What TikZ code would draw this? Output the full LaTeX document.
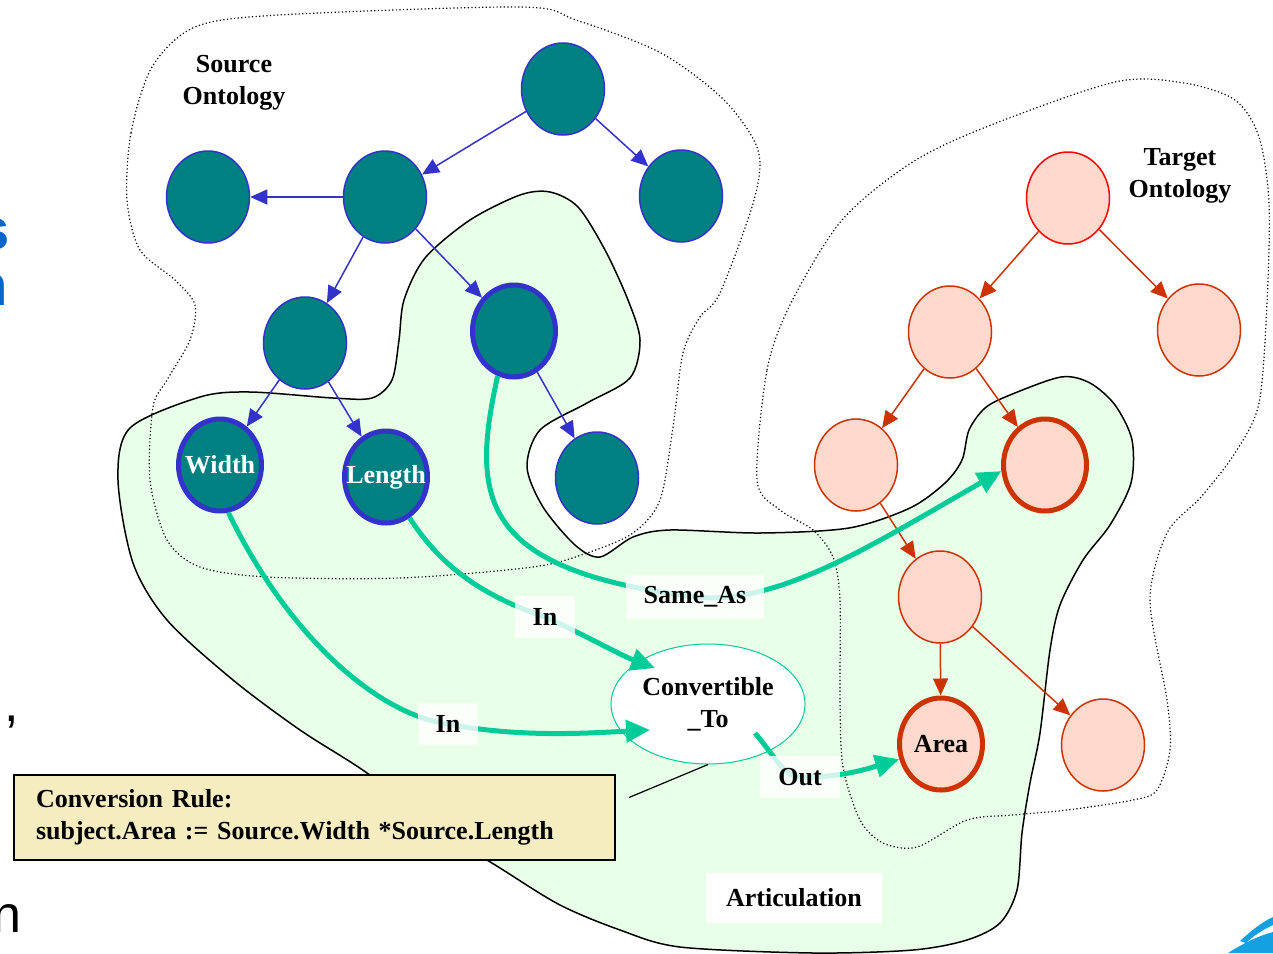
\documentclass[tikz,border=0pt]{standalone}
\usepackage{fontspec}
\setmainfont{Liberation Serif}
\newfontfamily\slidesans{Liberation Sans}
\usetikzlibrary{shapes.geometric, arrows.meta, calc}
\definecolor{srcfill}{RGB}{0,128,128}
\definecolor{srcline}{RGB}{51,51,204}
\definecolor{tgtfill}{RGB}{255,217,204}
\definecolor{tgtline}{RGB}{204,51,0}
\definecolor{tgttop}{RGB}{255,0,0}
\definecolor{flowgreen}{RGB}{0,204,153}
\definecolor{artfill}{RGB}{232,255,232}
\definecolor{rulefill}{RGB}{245,237,192}
\definecolor{slideblue}{RGB}{0,102,204}
\definecolor{logoblue}{RGB}{20,160,225}
\newcommand{\bigbold}{\bfseries\fontsize{26}{32}\selectfont}
\newcommand{\conceptname}[1]{\makebox[0pt]{#1}}
\tikzstyle{concept} = [ellipse, draw, line width=1.5pt, minimum width=83pt,
    minimum height=92pt, inner sep=0pt, font=\bigbold]
\tikzstyle{srcnode} = [concept, draw=srcline, fill=srcfill, text=white]
\tikzstyle{srcmark} = [srcnode, line width=5pt]
\tikzstyle{tgtnode} = [concept, draw=tgtline, fill=tgtfill]
\tikzstyle{tgtmark} = [tgtnode, line width=5pt]
\tikzstyle{srcedge} = [draw=srcline, line width=1.5pt, ->]
\tikzstyle{tgtedge} = [draw=tgtline, line width=1.5pt, ->]
\tikzstyle{flow} = [draw=flowgreen, line width=5pt,
    -{Triangle[length=24pt,width=22pt]}]
\tikzstyle{flowlabel} = [fill=white, fill opacity=0.8, text opacity=1,
    inner xsep=18pt, inner ysep=12pt, font=\bigbold]
\tikzstyle{title} = [align=center, font=\bigbold]
\tikzstyle{boundary} = [line width=1.2pt, dash pattern=on 1.2pt off 2.4pt]

\begin{document}
\begin{tikzpicture}[x=1pt, y=-1pt, >={Triangle[length=17pt,width=15pt]}]
    \useasboundingbox (0,0) rectangle (1273,953);

    \filldraw [fill=artfill, draw=black, line width=1.5pt] plot [smooth cycle] coordinates {
        (118,480) (130,428) (200,397) (250,392) (333,398) (372,398) (392,380)
        (399,340) (404,300) (425,258) (470,220) (520,195) (550,192) (578,207)
        (605,250) (628,300) (640,340) (630,378) (587,403) (540,430) (527,467)
        (543,507) (575,545) (600,557) (633,537) (670,530) (760,533) (849,528)
        (910,508) (945,483) (962,460) (969,430) (985,408) (1010,395) (1061,377)
        (1090,383) (1115,405) (1132,440) (1131,483) (1110,525) (1083,560)
        (1060,605) (1050,650) (1040,733) (1030,783) (1022,833) (1017,890)
        (1000,923) (967,940) (913,950) (813,953) (680,947) (620,930) (560,905)
        (500,868) (440,830) (367,773) (300,730) (233,680) (167,620) (133,563)};

    \draw [boundary] plot [smooth cycle] coordinates {
        (127,200) (131,133) (152,67) (195,27) (279,15) (521,7) (576,20)
        (661,53) (724,100) (758,150) (754,200) (720,293) (700,317) (683,353)
        (673,427) (660,500) (633,533) (587,553) (533,567) (400,578) (267,577)
        (200,567) (167,540) (150,480) (153,407) (167,380) (190,340) (195,305)
        (175,280) (140,250)};
    \draw [boundary] plot [smooth cycle] coordinates {
        (757,480) (767,370) (791,303) (842,220) (911,163) (986,127) (1115,82)
        (1184,83) (1235,100) (1259,137) (1269,203) (1267,303) (1259,403)
        (1235,453) (1201,497) (1167,533) (1150,600) (1167,700) (1170,750)
        (1157,790) (1133,800) (1067,810) (1013,815) (967,820) (917,847)
        (883,843) (860,820) (843,767) (840,700) (840,600) (833,557) (813,530)
        (780,510)};

    \node [title] (srctitle) at (234,83) {Source\\Ontology};
    \node [title] (tgttitle) at (1180,176) {Target\\Ontology};

    \node [srcnode] (s1) at (563,89) {};
    \node [srcnode] (s2) at (208,197) {};
    \node [srcnode] (s3) at (385,197) {};
    \node [srcnode] (s4) at (681,196) {};
    \node [srcnode] (s5) at (305,343) {};
    \node [srcmark] (s6) at (514,331) {};
    \node [srcmark] (width) at (220,465) {\conceptname{Width}};
    \node [srcmark] (length) at (386,477) {\conceptname{Length}};
    \node [srcnode] (s9) at (597,478) {};
    \draw [srcedge] (s1) -- (s3);
    \draw [srcedge] (s1) -- (s4);
    \draw [srcedge] (s3) -- (s2);
    \draw [srcedge] (s3) -- (s5);
    \draw [srcedge] (s3) -- (s6);
    \draw [srcedge] (s5) -- (width);
    \draw [srcedge] (s5) -- (length);
    \draw [srcedge] (s6) -- (s9);

    \node [tgtnode, draw=tgttop] (t1) at (1068,198) {};
    \node [tgtnode] (t2) at (950,332) {};
    \node [tgtnode] (t3) at (1199,330) {};
    \node [tgtnode] (t4) at (856,465) {};
    \node [tgtmark] (t5) at (1045,465) {};
    \node [tgtnode] (t6) at (940,597) {};
    \node [tgtmark] (area) at (941,744) {Area};
    \node [tgtnode] (t8) at (1103,745) {};
    \draw [tgtedge] (t1) -- (t2);
    \draw [tgtedge] (t1) -- (t3);
    \draw [tgtedge] (t2) -- (t4);
    \draw [tgtedge] (t2) -- (t5);
    \draw [tgtedge] (t4) -- (t6);
    \draw [tgtedge] (t6) -- (area);
    \draw [tgtedge] (t6) -- (t8);

    \node [ellipse, draw=flowgreen, line width=1pt, fill=white, minimum width=194pt,
        minimum height=120pt, inner sep=0pt, align=center, font=\bigbold]
        (conv) at (708,704) {Convertible\\\_To};

    \coordinate (inw) at (448,724);
    \coordinate (inl) at (545,617);
    \coordinate (same) at (695,597);
    \coordinate (out) at (800,777);
    \draw [flow] (width.280) .. controls (290,640) and (380,715) .. (inw)
        .. controls (520,738) and (590,733) .. ($(conv)+(-58,26)$);
    \draw [flow] (length.300) .. controls (440,565) and (480,595) .. (inl)
        .. controls (585,635) and (620,655) .. ($(conv)+(-53,-36)$);
    \draw [flow] (s6.250) .. controls (470,500) and (480,570) .. (same)
        .. controls (780,606) and (880,540) .. (t5.188);
    \draw [flow] ($(conv)+(47,29)$) .. controls (775,757) and (785,777) .. (out)
        .. controls (840,778) and (870,768) .. (area.200);
    \node [flowlabel] at (inw) {In};
    \node [flowlabel] at (inl) {In};
    \node [flowlabel] at (same) {Same\_As};
    \node [flowlabel] at (out) {Out};

    \node [draw=black, fill=rulefill, line width=2pt, text width=557pt, inner xsep=22pt,
        minimum height=85pt, align=left, font=\bigbold] (rule) at (314.5,817.5)
        {Conversion Rule:\\subject.Area := Source.Width *Source.Length};
    \draw [line width=1.2pt] (conv.south) -- ($(rule.east)+(13,-20)$);

    \node [fill=white, minimum width=176pt, minimum height=50pt, font=\bigbold]
        (artlabel) at (794,898) {Articulation};

    \node [anchor=east, inner sep=0pt, text=slideblue,
        font=\slidesans\bfseries\fontsize{58}{60}\selectfont] (cuts) at (10,234) {s};
    \node [anchor=east, inner sep=0pt, text=slideblue,
        font=\slidesans\bfseries\fontsize{58}{60}\selectfont] (cutn) at (8,290) {n};
    \node [anchor=east, inner sep=0pt, font=\slidesans\fontsize{52}{56}\selectfont]
        (cutdot) at (5,548) {.};
    \node [anchor=east, inner sep=0pt, font=\slidesans\fontsize{52}{56}\selectfont]
        (cutcomma) at (19,722) {,};
    \node [anchor=east, inner sep=0pt, font=\slidesans\fontsize{52}{56}\selectfont]
        (cutm) at (22,918) {n};

    \fill [logoblue] (1240,941) .. controls (1252,930) and (1262,922) .. (1273,917)
        -- (1273,925) .. controls (1262,930) and (1252,937) .. (1246,943) -- cycle;
    \fill [logoblue] (1228,953) .. controls (1244,943) and (1258,936) .. (1273,932)
        -- (1273,953) -- cycle;
\end{tikzpicture}
\end{document}
